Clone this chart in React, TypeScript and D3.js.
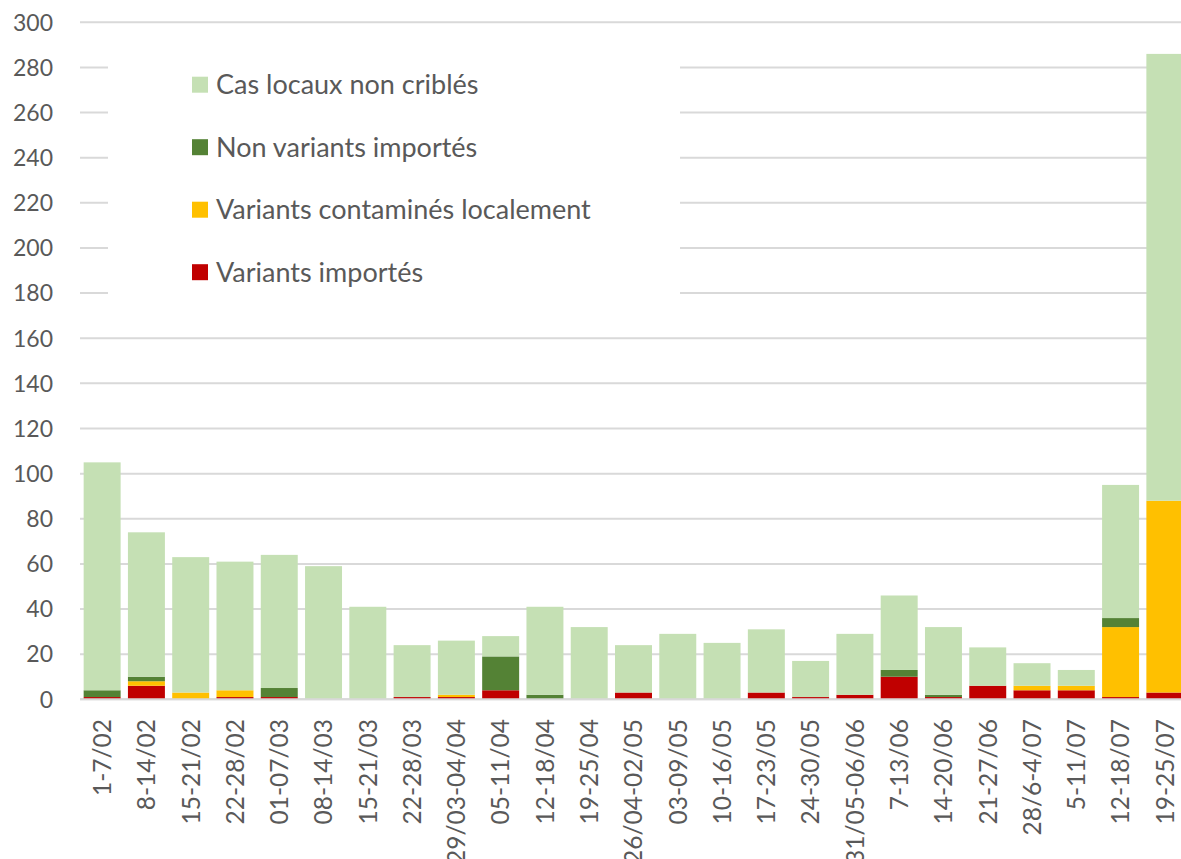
import { useEffect, useRef } from "react";
import * as d3 from "d3";

const W = 1181, H = 859;
const FONT = "Lato, 'Open Sans', sans-serif";
const TEXT = "#595959";
const GRID = "#d9d9d9";

const CATEGORIES = [
  "1-7/02", "8-14/02", "15-21/02", "22-28/02", "01-07/03", "08-14/03", "15-21/03",
  "22-28/03", "29/03-04/04", "05-11/04", "12-18/04", "19-25/04", "26/04-02/05",
  "03-09/05", "10-16/05", "17-23/05", "24-30/05", "31/05-06/06", "7-13/06",
  "14-20/06", "21-27/06", "28/6-4/07", "5-11/07", "12-18/07", "19-25/07",
];

// stacked bottom -> top
const VARIANTS_IMPORTES = [1, 6, 0, 1, 1, 0, 0, 1, 1, 4, 0, 0, 3, 0, 0, 3, 1, 2, 10, 1, 6, 4, 4, 1, 3];
const VARIANTS_LOCAUX = [0, 2, 3, 3, 0, 0, 0, 0, 1, 0, 0, 0, 0, 0, 0, 0, 0, 0, 0, 0, 0, 2, 2, 31, 85];
const NON_VARIANTS_IMPORTES = [3, 2, 0, 0, 4, 0, 0, 0, 0, 15, 2, 0, 0, 0, 0, 0, 0, 0, 3, 1, 0, 0, 0, 4, 0];
const LOCAUX_NON_CRIBLES = [101, 64, 60, 57, 59, 59, 41, 23, 24, 9, 39, 32, 21, 29, 25, 28, 16, 27, 33, 30, 17, 10, 7, 59, 198];

const Y_TICKS = [0, 20, 40, 60, 80, 100, 120, 140, 160, 180, 200, 220, 240, 260, 280, 300];

const SERIES = [
  { key: "imp", label: "Variants importés", color: "#c00000", values: VARIANTS_IMPORTES },
  { key: "loc", label: "Variants contaminés localement", color: "#ffc000", values: VARIANTS_LOCAUX },
  { key: "nv", label: "Non variants importés", color: "#548235", values: NON_VARIANTS_IMPORTES },
  { key: "cas", label: "Cas locaux non criblés", color: "#c5e0b4", values: LOCAUX_NON_CRIBLES },
];

const LEGEND_ORDER = ["cas", "nv", "loc", "imp"];

export default function App() {
  const svgRef = useRef<SVGSVGElement | null>(null);

  useEffect(() => {
    const svg = d3.select(svgRef.current);
    svg.selectAll("*").remove();

    const x = d3.scaleBand<string>().domain(CATEGORIES).range([80, 1187])
      .paddingInner(0.165).paddingOuter(0.0825);
    const y = d3.scaleLinear().domain([0, 300]).range([699.3, 22.3]);

    // gridlines
    svg.append("g").selectAll("line").data(Y_TICKS).join("line")
      .attr("x1", 80).attr("x2", W)
      .attr("y1", d => y(d)).attr("y2", d => y(d))
      .attr("stroke", GRID).attr("stroke-width", 2);

    // y labels
    svg.append("g").selectAll("text").data(Y_TICKS).join("text")
      .attr("x", 53).attr("y", d => y(d)).attr("dy", "0.36em")
      .attr("text-anchor", "end").attr("fill", TEXT)
      .attr("font-family", FONT).attr("font-size", 23)
      .text(d => d);

    // stacked bars
    const rows = CATEGORIES.map((c, i) => {
      const r: any = { cat: c };
      SERIES.forEach(s => { r[s.key] = s.values[i]; });
      return r;
    });
    const stack = d3.stack<any>().keys(SERIES.map(s => s.key));
    const layers = stack(rows);

    svg.append("g").selectAll("g").data(layers).join("g")
      .attr("fill", (_, i) => SERIES[i].color)
      .selectAll("rect").data(d => d).join("rect")
      .attr("x", d => x(d.data.cat)!)
      .attr("width", x.bandwidth())
      .attr("y", d => y(d[1]))
      .attr("height", d => y(d[0]) - y(d[1]));

    // x axis line
    svg.append("line").attr("x1", 80).attr("x2", W)
      .attr("y1", y(0)).attr("y2", y(0))
      .attr("stroke", GRID).attr("stroke-width", 2);

    // x labels
    svg.append("g").selectAll("text").data(CATEGORIES).join("text")
      .attr("transform", d => `translate(${x(d)! + x.bandwidth() / 2},719) rotate(-90)`)
      .attr("dy", "0.36em").attr("text-anchor", "end")
      .attr("fill", TEXT).attr("font-family", FONT).attr("font-size", 24.5)
      .text(d => d);

    // legend
    const lg = svg.append("g");
    lg.append("rect").attr("x", 108).attr("y", 32).attr("width", 572).attr("height", 282).attr("fill", "#fff");
    LEGEND_ORDER.forEach((k, i) => {
      const s = SERIES.find(ss => ss.key === k)!;
      const cy = 84.7 + i * 62.5;
      lg.append("rect").attr("x", 192).attr("y", cy - 8).attr("width", 16).attr("height", 16).attr("fill", s.color);
      lg.append("text").attr("x", 216).attr("y", cy).attr("dy", "0.36em")
        .attr("fill", TEXT).attr("font-family", FONT).attr("font-size", 27)
        .text(s.label);
    });
  }, []);

  return (
    <div>
      <style>{`body{margin:0;background:#fff}`}</style>
      <svg ref={svgRef} width={W} height={H} style={{ display: "block" }} />
    </div>
  );
}
